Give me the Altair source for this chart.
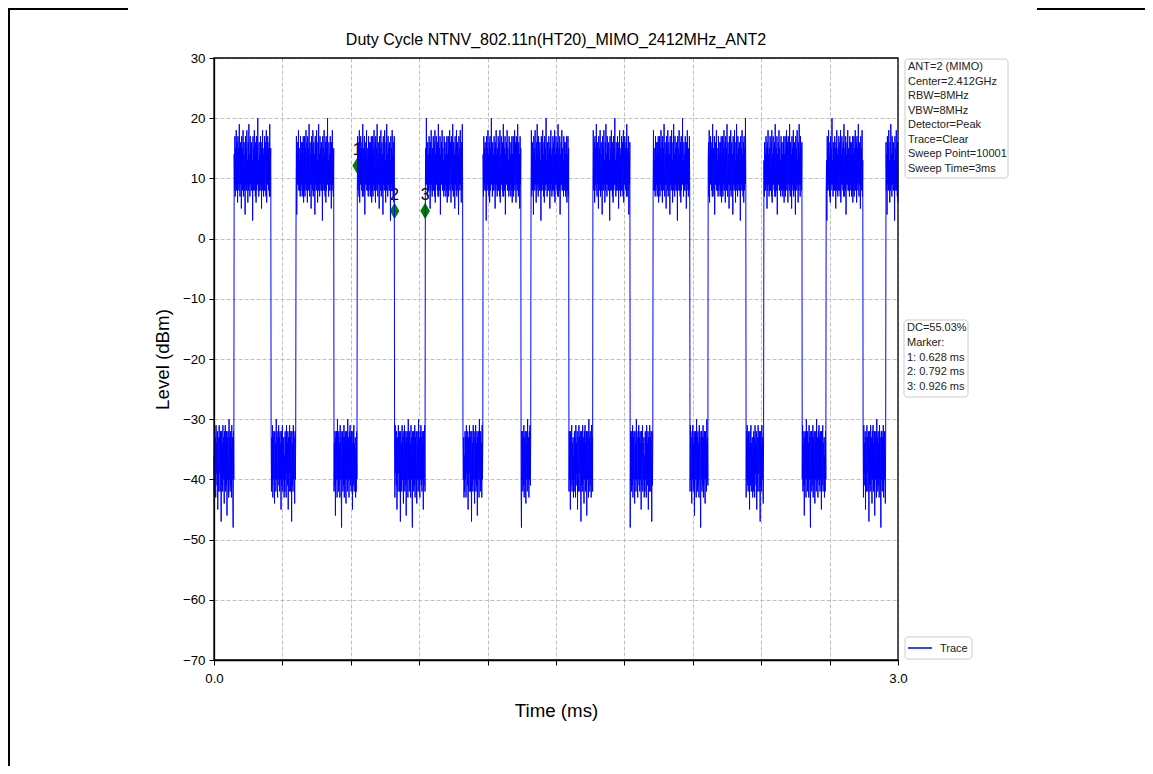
import altair as alt
import pandas as pd

# ---------------- data ----------------
# trace state segments (ms): low/high power bursts
seg_start = [0.0, 0.088, 0.250, 0.360, 0.526, 0.628, 0.792, 0.926, 1.092, 1.180, 1.346, 1.390,
             1.557, 1.662, 1.825, 1.925, 2.088, 2.167, 2.333, 2.412, 2.579, 2.684, 2.846, 2.947]
seg_end = [0.088, 0.250, 0.360, 0.526, 0.628, 0.792, 0.926, 1.092, 1.180, 1.346, 1.390, 1.557,
           1.662, 1.825, 1.925, 2.088, 2.167, 2.333, 2.412, 2.579, 2.684, 2.846, 2.947, 3.0]
seg_state = ["low", "high", "low", "high", "low", "high", "low", "high", "low", "high", "low", "high",
             "low", "high", "low", "high", "low", "high", "low", "high", "low", "high", "low", "high"]

# levels (dBm) read from the bursts, in order of appearance
high_levels = [14, 8, 17, 7, 15, 9, 18, 8, 13, 16, 6, 17, 9, 15, 8, 19, 10, 7, 16, 9,
               14, 5, 17, 9, 15, 8, 18, 7, 13, 16, 8, 14, 4, 17, 9, 15, 8, 18, 9, 13,
               6, 16, 8, 19, 9, 14, 7, 17, 9, 15, 8, 16, 8, 13, 3, 17, 8, 15, 9, 18,
               8, 14, 7, 16, 6, 17, 8, 15, 9, 20, 9, 13, 7, 16, 8, 14, 8, 17, 9, 15,
               5, 16, 8, 18, 9, 14, 7, 15, 8, 17, 8, 13, 16, 7, 18, 6, 14, 9, 17, 9,
               15, 8, 16, 7, 19, 7, 13, 15, 8, 17, 4, 14, 9, 16, 9, 18, 8, 15, 8, 13,
               7, 17, 8, 16, 9, 14, 7, 16, 8, 17, 6]
low_levels = [-36, -42, -32, -40, -33, -43, -31, -39, -34, -41, -32, -45, -33, -40, -42, -31,
              -39, -33, -42, -32, -37, -47, -32, -41, -34, -42, -31, -40, -33, -41, -44, -32,
              -40, -31, -42, -34, -41, -32, -46, -33, -40, -32, -39, -43, -30, -40, -33, -42,
              -32, -41, -34, -43, -31, -40, -33, -42, -48, -32, -40, -32, -42, -33, -41, -31,
              -43, -33, -40, -32, -41, -44, -32, -40, -34, -42, -30, -40, -33, -41, -43, -32,
              -40, -31, -41, -33, -42, -32, -40, -34, -45, -32, -41, -33, -31, -42, -34, -40,
              -33, -43]

sweep_time_ms = 3.0
sweep_step_ms = 0.0015

marker_t = [0.628, 0.792, 0.926]
marker_level = [12.1, 4.6, 4.6]
marker_label = ["1", "2", "3"]

x_ticks = [0.0, 0.3, 0.6, 0.9, 1.2, 1.5, 1.8, 2.1, 2.4, 2.7, 3.0]
y_ticks = [-70, -60, -50, -40, -30, -20, -10, 0, 10, 20, 30]

title_text = "Duty Cycle NTNV_802.11n(HT20)_MIMO_2412MHz_ANT2"
info_lines = ["ANT=2 (MIMO)", "Center=2.412GHz", "RBW=8MHz", "VBW=8MHz", "Detector=Peak",
              "Trace=Clear", "Sweep Point=10001", "Sweep Time=3ms"]
dc_lines = ["DC=55.03%", "Marker:", "1: 0.628 ms", "2: 0.792 ms", "3: 0.926 ms"]
legend_label = "Trace"

# ---------------- build the trace table ----------------
rows = []
hi_i = 0
lo_i = 0
n = int(round(sweep_time_ms / sweep_step_ms))
for i in range(n + 1):
    t = round(i * sweep_step_ms, 6)
    state = seg_state[-1]
    for s, e, st in zip(seg_start, seg_end, seg_state):
        if s <= t < e:
            state = st
            break
    if state == "high":
        v = high_levels[hi_i % len(high_levels)]
        hi_i += 1
    else:
        v = low_levels[lo_i % len(low_levels)]
        lo_i += 1
    rows.append({"t": t, "level": v})
trace_df = pd.DataFrame(rows)
marker_df = pd.DataFrame({"t": marker_t, "level": marker_level, "label": marker_label})
one = pd.DataFrame({"a": [0]})
legend_df = pd.DataFrame({"label": [legend_label]})

FONT = "Liberation Sans"
W, H = 684, 602

x_enc = alt.X("t:Q", scale=alt.Scale(domain=[0, 3], nice=False, zero=False),
              axis=alt.Axis(values=x_ticks, title="Time (ms)",
                            labelExpr="datum.value == 0 || datum.value == 3 ? format(datum.value, '.1f') : ''",
                            labelFlush=False, labelOverlap=False, tickSize=5, labelPadding=6,
                            titlePadding=17))
y_enc = alt.Y("level:Q", scale=alt.Scale(domain=[-70, 30], nice=False, zero=False),
              axis=alt.Axis(values=y_ticks, title="Level (dBm)", format="d",
                            tickSize=5, labelPadding=4, titlePadding=10))

trace = alt.Chart(trace_df).mark_line(strokeWidth=1.0, color="#0000ff", interpolate="linear").encode(
    x=x_enc, y=y_enc, order=alt.Order("t:Q"),
)

markers = alt.Chart(marker_df).mark_point(
    shape="M0,-1L0.6,0L0,1L-0.6,0Z", size=260, filled=True, fill="#008000", strokeWidth=0, opacity=1
).encode(x=x_enc, y=y_enc)

marker_text = alt.Chart(marker_df).mark_text(
    fontSize=16, font=FONT, color="black", baseline="bottom", align="center", dy=-8
).encode(x=x_enc, y=y_enc, text="label:N")

title_mark = alt.Chart(one).mark_text(
    fontSize=16, font=FONT, color="black", baseline="alphabetic", align="center"
).encode(x=alt.value(W / 2), y=alt.value(-13), text=alt.value(title_text))

# axes frame (all four spines)
frame_box = alt.Chart(one).mark_rect(fill=None, stroke="black", strokeWidth=1.3).encode(
    x=alt.value(0), x2=alt.value(W), y=alt.value(0), y2=alt.value(H))

box1 = alt.Chart(one).mark_rect(fill="white", stroke="#cccccc", strokeWidth=1, cornerRadius=3).encode(
    x=alt.value(691), x2=alt.value(794), y=alt.value(1), y2=alt.value(120))
box1_text = alt.Chart(one).mark_text(
    align="left", baseline="top", font=FONT, fontSize=11, color="#222222",
    lineBreak="\n", lineHeight=14.5).encode(
    x=alt.value(694), y=alt.value(3), text=alt.value("\n".join(info_lines)))

box2 = alt.Chart(one).mark_rect(fill="white", stroke="#cccccc", strokeWidth=1, cornerRadius=3).encode(
    x=alt.value(690), x2=alt.value(754), y=alt.value(262), y2=alt.value(339))
box2_text = alt.Chart(one).mark_text(
    align="left", baseline="top", font=FONT, fontSize=11, color="#222222",
    lineBreak="\n", lineHeight=14.8).encode(
    x=alt.value(693), y=alt.value(264), text=alt.value("\n".join(dc_lines)))

# legend box for the trace
leg_box = alt.Chart(legend_df).mark_rect(fill="white", stroke="#cccccc", strokeWidth=1, cornerRadius=3).encode(
    x=alt.value(691), x2=alt.value(758), y=alt.value(579), y2=alt.value(601))
leg_line = alt.Chart(legend_df).mark_rule(color="#0000ff", strokeWidth=1.5).encode(
    x=alt.value(694), x2=alt.value(718), y=alt.value(590))
leg_text = alt.Chart(legend_df).mark_text(
    align="left", baseline="middle", font=FONT, fontSize=11, color="#222222").encode(
    x=alt.value(726), y=alt.value(590.5), text="label:N")

# page frame lines of the source document
frame_left = alt.Chart(one).mark_rule(color="black", strokeWidth=2).encode(
    x=alt.value(-205), y=alt.value(-50), y2=alt.value(708))
frame_top_l = alt.Chart(one).mark_rule(color="black", strokeWidth=2).encode(
    x=alt.value(-206), x2=alt.value(-86), y=alt.value(-49))
frame_top_r = alt.Chart(one).mark_rule(color="black", strokeWidth=2).encode(
    x=alt.value(823), x2=alt.value(931), y=alt.value(-49))

chart = alt.layer(
    frame_left, frame_top_l, frame_top_r, title_mark,
    box1, box1_text, box2, box2_text, leg_box, leg_line, leg_text,
    markers, marker_text, trace, frame_box,
).properties(
    width=W, height=H,
    autosize=alt.AutoSizeParams(type="none"),
    padding={"left": 206, "top": 50, "right": 247, "bottom": 106},
    background="white",
).configure_view(
    stroke=None
).configure_axis(
    domainColor="black", domainWidth=1.3, tickColor="black", tickWidth=1,
    grid=True, gridColor="#b0b0b0", gridDash=[4, 2], gridWidth=0.8,
    labelColor="black", titleColor="black", labelFont=FONT, titleFont=FONT,
    labelFontSize=13.3, titleFontSize=18.7, titleFontWeight="normal",
)

chart.save("out.html", embed_options={"renderer": "svg", "actions": False})
